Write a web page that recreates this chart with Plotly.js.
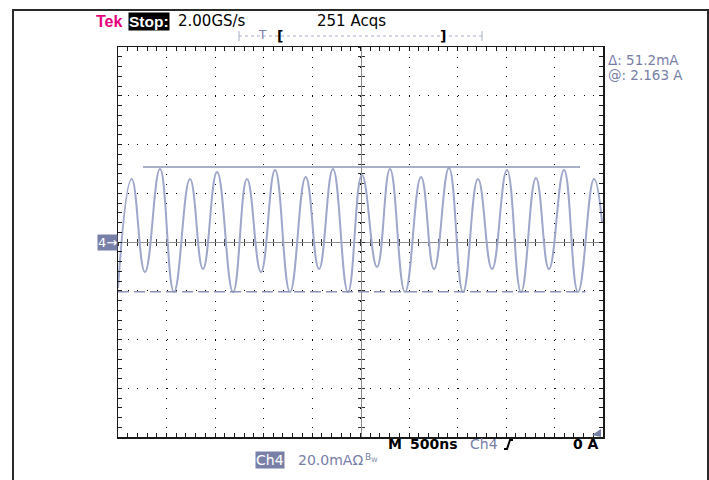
<!DOCTYPE html>
<html>
<head>
<meta charset="utf-8">
<script src="https://cdn.plot.ly/plotly-3.0.1.min.js"></script>
<style>
  html, body { margin: 0; padding: 0; background: #fff; overflow: hidden; }
  #scope { position: absolute; left: 0; top: 0; width: 709px; height: 480px; }
  #bezel { position: absolute; left: 12px; top: 9px; width: 693px; height: 480px;
           border: 2px solid #2a2a2a; pointer-events: none; }
</style>
</head>
<body>
<div id="scope"></div>
<div id="bezel"></div>
<script>
// Channel 4 capture: time (ns, relative to trigger) and current (mA), read at the waveform extremes
const tNs = [-2500, -2359, -2222, -2067, -1923, -1758, -1624, -1479, -1314, -1170,
             -1026, -881, -727, -565, -428, -284, -129, 15, 170, 304,
             459, 624, 758, 912, 1057, 1211, 1356, 1510, 1655, 1809,
             1943, 2098, 2242, 2407, 2490];
const iMa = [-18.9, 25.8, -12.3, 29.9, -20.5, 25.8, -11.1, 28.7, -20.5, 25.8,
             -12.3, 29.5, -20.5, 26.7, -11.1, 29.9, -20.5, 27.5, -10.3, 29.9,
             -20.5, 26.7, -11.1, 30.4, -20.5, 25.8, -11.1, 29.5, -20.5, 26.3,
             -11.1, 29.5, -20.5, 25.8, 8.2];

// Horizontal bar cursors (mA) and the time span each one is drawn over (ns)
const cursorLevels = [30.8, -20.4];
const cursorStart = [-2242, -2500];
const cursorEnd = [2263, 2320];

// Scope settings shown in the readouts
const sampleRate = '2.00GS/s';
const acquisitions = 251;
const timePerDiv = 500;   // ns/div
const ampPerDiv = 20.0;   // mA/div
const cursorAt = '2.163 A';
const trigLevel = '0 A';

// Graticule: 10 x 8 divisions
const xRange = [-5 * timePerDiv, 5 * timePerDiv];
const yRange = [-4 * ampPerDiv, 4 * ampPerDiv];

// plot-area geometry in pixels, used to place the readouts around the screen
const L = 118, T = 47, W = 485, H = 390;
const px = v => (v - L) / W;
const py = v => (T + H - v) / H;

const trace = '#9fa7ca';
const chan = '#7880a8';
const font = 'DejaVu Sans, Liberation Sans, sans-serif';

const data = [
  { x: tNs, y: iMa, type: 'scatter', mode: 'lines',
    line: { color: trace, width: 2, shape: 'spline', smoothing: 1.3 },
    hoverinfo: 'skip', showlegend: false },
  { x: [cursorStart[0], cursorEnd[0]], y: [cursorLevels[0], cursorLevels[0]],
    type: 'scatter', mode: 'lines', line: { color: '#8c94b6', width: 1.6 },
    hoverinfo: 'skip', showlegend: false },
  { x: [cursorStart[1], cursorEnd[1]], y: [cursorLevels[1], cursorLevels[1]],
    type: 'scatter', mode: 'lines', line: { color: '#8c94b6', width: 1.6, dash: '11px,5px' },
    hoverinfo: 'skip', showlegend: false },
  // carriers for the centre cross-hair axes
  { x: [], y: [], xaxis: 'x2', yaxis: 'y', hoverinfo: 'skip', showlegend: false },
  { x: [], y: [], xaxis: 'x3', yaxis: 'y', hoverinfo: 'skip', showlegend: false },
  { x: [], y: [], xaxis: 'x', yaxis: 'y2', hoverinfo: 'skip', showlegend: false },
  { x: [], y: [], xaxis: 'x', yaxis: 'y3', hoverinfo: 'skip', showlegend: false }
];

const frameAxis = (range, dtick, minorTick, dash) => ({
  range: range, dtick: dtick, tick0: 0, fixedrange: true,
  showgrid: true, gridcolor: '#000', gridwidth: 1, griddash: dash,
  zeroline: false, showticklabels: false,
  showline: true, linecolor: '#1a1a1a', linewidth: 1.5, mirror: 'ticks',
  ticks: 'inside', ticklen: 4, tickcolor: '#1a1a1a', tickwidth: 1,
  minor: { dtick: minorTick, ticks: 'inside', ticklen: 4, tickcolor: '#1a1a1a', tickwidth: 1, showgrid: false }
});

const centreAxis = (range, minorTick, side, ticks, overlay) => ({
  range: range, overlaying: overlay, anchor: 'free', position: 0.5, side: side,
  fixedrange: true, showgrid: false, zeroline: false, showticklabels: false,
  showline: true, linecolor: '#8e8e8e', linewidth: 1, layer: 'below traces',
  dtick: minorTick, tick0: 0, ticks: ticks, ticklen: 3, tickcolor: '#333', tickwidth: 1
});

const ann = (x, y, text, opts) => Object.assign({
  xref: 'paper', yref: 'paper', x: px(x), y: py(y), text: text, showarrow: false,
  xanchor: 'left', yanchor: 'middle', font: { family: font, size: 14, color: '#000' }
}, opts || {});

const annotations = [
  ann(94, 21, '<b>Tek</b>', { font: { family: 'Liberation Sans, sans-serif', size: 16, color: '#e4007c' } }),
  ann(128, 21, '<b>Stop:</b>', { font: { family: 'Liberation Sans, sans-serif', size: 15.5, color: '#fff' },
                                  bgcolor: '#000', borderpad: 0 }),
  ann(176, 21, sampleRate, { font: { family: font, size: 15, color: '#000' } }),
  ann(315, 21, acquisitions + ' Acqs', { font: { family: font, size: 15, color: '#000' } }),
  ann(262, 35, 'T', { xanchor: 'center', font: { family: font, size: 12, color: chan } }),
  ann(280, 36, '<b>[</b>', { xanchor: 'center', font: { family: font, size: 14, color: '#000' } }),
  ann(443, 36, '<b>]</b>', { xanchor: 'center', font: { family: font, size: 14, color: '#000' } }),
  ann(606, 60, 'Δ: ' + (cursorLevels[0] - cursorLevels[1]).toFixed(1) + 'mA',
      { font: { family: font, size: 13.5, color: chan } }),
  ann(606, 75, '@: ' + cursorAt, { font: { family: font, size: 13.5, color: chan } }),
  ann(386, 444, '<b>M</b>', { font: { family: font, size: 14, color: '#000' } }),
  ann(408, 444, '<b>' + timePerDiv + 'ns</b>', { font: { family: font, size: 14, color: '#000' } }),
  ann(468, 444, 'Ch4', { font: { family: font, size: 14, color: chan } }),
  ann(571, 444, '<b>' + trigLevel + '</b>', { font: { family: font, size: 14, color: '#000' } }),
  ann(255, 460, 'Ch4', { font: { family: font, size: 14, color: '#fff' }, bgcolor: chan, borderpad: 0 }),
  ann(296, 460, ampPerDiv.toFixed(1) + 'mAΩ', { font: { family: font, size: 14, color: chan } }),
  ann(363, 457, 'B<sub>W</sub>', { font: { family: font, size: 9, color: chan } }),
  ann(97, 242, '4→', { font: { family: font, size: 13, color: '#fff' }, bgcolor: chan, borderpad: 0 })
];

const shapes = [
  // record-length bar with its trigger point and on-screen window
  { type: 'line', xref: 'paper', yref: 'paper', x0: px(239), x1: px(482), y0: py(36), y1: py(36),
    line: { color: '#a9b0c8', width: 1, dash: 'dot' } },
  { type: 'line', xref: 'paper', yref: 'paper', x0: px(239), x1: px(239), y0: py(31), y1: py(41),
    line: { color: '#a9b0c8', width: 1 } },
  { type: 'line', xref: 'paper', yref: 'paper', x0: px(482), x1: px(482), y0: py(31), y1: py(41),
    line: { color: '#a9b0c8', width: 1 } },
  // rising-edge trigger slope symbol
  { type: 'path', xref: 'paper', yref: 'paper',
    path: `M ${px(504)},${py(449)} L ${px(507)},${py(449)} L ${px(510)},${py(440)} L ${px(513)},${py(440)}`,
    line: { color: '#000', width: 2 } },
  // trigger level marker at the right edge
  { type: 'path', xref: 'paper', yref: 'paper',
    path: `M ${px(601)},${py(429)} L ${px(592)},${py(435)} L ${px(601)},${py(437)} Z`,
    fillcolor: chan, line: { width: 0 } }
];

const layout = {
  width: 709, height: 480,
  margin: { l: L, r: 709 - L - W, t: T, b: 480 - T - H, pad: 0 },
  paper_bgcolor: '#fff', plot_bgcolor: '#fff',
  showlegend: false,
  xaxis: frameAxis(xRange, timePerDiv, timePerDiv / 5, '1px,8.75px'),
  yaxis: frameAxis(yRange, ampPerDiv, ampPerDiv / 5, '1px,8.7px'),
  xaxis2: centreAxis(xRange, timePerDiv / 5, 'bottom', 'outside', 'x'),
  xaxis3: centreAxis(xRange, timePerDiv / 5, 'bottom', 'inside', 'x'),
  yaxis2: centreAxis(yRange, ampPerDiv / 5, 'left', 'outside', 'y'),
  yaxis3: centreAxis(yRange, ampPerDiv / 5, 'left', 'inside', 'y'),
  annotations: annotations,
  shapes: shapes
};

Plotly.newPlot('scope', data, layout, { staticPlot: true, displayModeBar: false });
</script>
</body>
</html>
